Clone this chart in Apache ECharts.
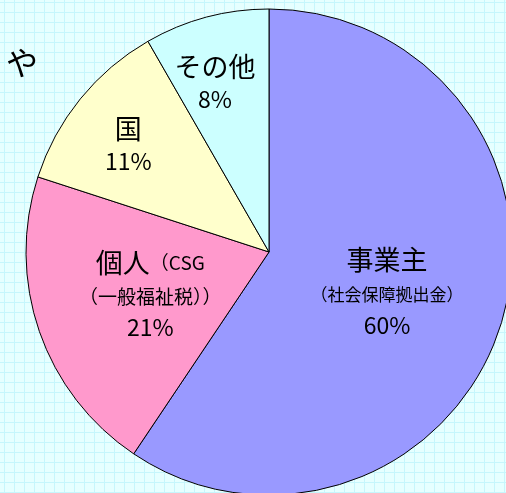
<!DOCTYPE html>
<html>
<head>
<meta charset="utf-8">
<script src="https://cdn.jsdelivr.net/npm/echarts@6/dist/echarts.min.js"></script>
<style>
  html, body { margin: 0; padding: 0; }
  #chart {
    width: 506px; height: 493px;
    background-color: #e6ffff;
    background-image:
      linear-gradient(to right, #c6f6fc 1px, transparent 1px),
      linear-gradient(to bottom, #c6f6fc 1px, transparent 1px);
    background-size: 10px 10px;
    background-position: 4px 2px;
  }
</style>
</head>
<body>
<div id="chart"></div>
<script>
var categories = ['事業主', '個人', '国', 'その他'];
var notes = ['（社会保障拠出金）', '（一般福祉税））', '', ''];
var shares = [59.4, 20.6, 11.7, 8.3];
var pctLabels = ['60%', '21%', '11%', '8%'];
var colors = ['#9999ff', '#ff99cc', '#ffffcc', '#ccffff'];

// label nudges so each sits where the original put it
var labelOffsets = [[-1, 3], [-1, 1], [-44, -30], [-22, -50]];

var chart = echarts.init(document.getElementById('chart'));

var pieData = categories.map(function (name, i) {
    return {
        name: name,
        value: shares[i],
        itemStyle: { color: colors[i] },
        label: { offset: labelOffsets[i] }
    };
});

function labelText(p) {
    var i = p.dataIndex;
    if (i === 0) {
        return '{big|' + p.name + '}\n{small|' + notes[i] + '}\n{pct|' + pctLabels[i] + '}';
    }
    if (i === 1) {
        return '{big|' + p.name + '}{mid|（CSG}\n{mid2|' + notes[i] + '}\n{pct|' + pctLabels[i] + '}';
    }
    return '{big|' + p.name + '}\n{pct|' + pctLabels[i] + '}';
}

var font = '"Noto Sans CJK JP", "Noto Sans", sans-serif';

chart.setOption({
    animation: false,
    graphic: [{
        type: 'text',
        left: 6,
        top: 47,
        style: { text: 'や', font: '32px ' + font, fill: '#000' }
    }],
    series: [{
        type: 'pie',
        center: [269, 252],
        radius: 243,
        startAngle: 90,
        clockwise: true,
        itemStyle: { borderColor: '#000', borderWidth: 1 },
        emphasis: { disabled: true },
        labelLine: { show: false },
        label: {
            position: 'inside',
            color: '#000',
            fontFamily: font,
            formatter: labelText,
            rich: {
                big: { fontSize: 27, fontFamily: font, lineHeight: 36, color: '#000' },
                mid: { fontSize: 19, fontFamily: font, lineHeight: 36, color: '#000' },
                mid2: { fontSize: 19, fontFamily: font, lineHeight: 32, color: '#000' },
                small: { fontSize: 17, fontFamily: font, lineHeight: 32, color: '#000' },
                pct: { fontSize: 23, fontFamily: font, lineHeight: 30, color: '#000' }
            }
        },
        data: pieData
    }]
});
</script>
</body>
</html>
